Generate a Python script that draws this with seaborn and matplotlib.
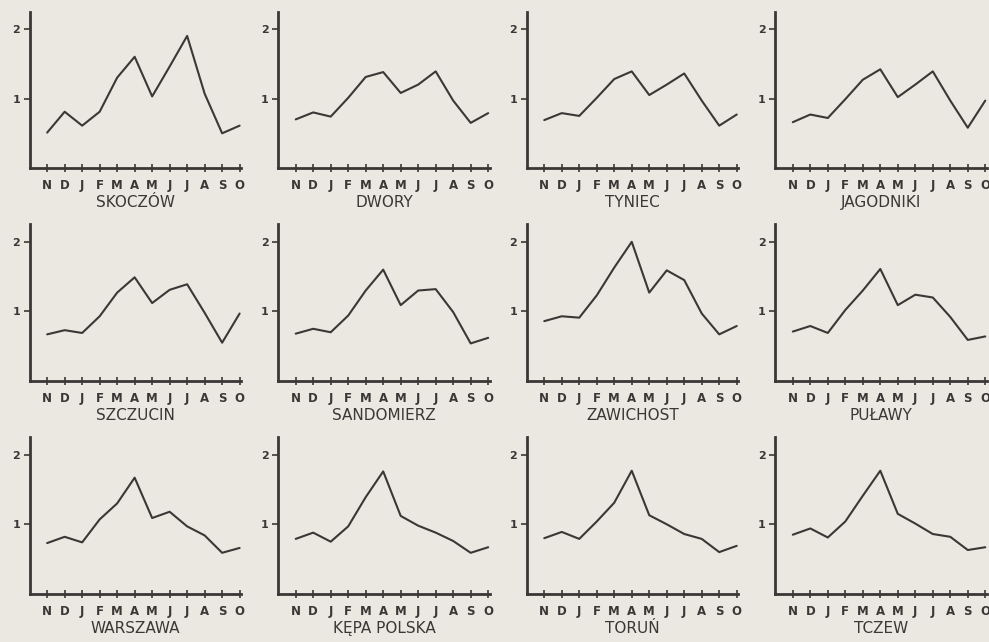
import matplotlib.pyplot as plt
import seaborn as sns
import pandas as pd

# hydrological year, November to October
months = ["N", "D", "J", "F", "M", "A", "M", "J", "J", "A", "S", "O"]

stations = ["SKOCZÓW", "DWORY", "TYNIEC", "JAGODNIKI",
            "SZCZUCIN", "SANDOMIERZ", "ZAWICHOST", "PUŁAWY",
            "WARSZAWA", "KĘPA POLSKA", "TORUŃ", "TCZEW"]

skoczow    = [0.51, 0.81, 0.61, 0.81, 1.30, 1.60, 1.03, 1.46, 1.90, 1.07, 0.50, 0.61]
dwory      = [0.70, 0.80, 0.74, 1.01, 1.31, 1.38, 1.08, 1.20, 1.39, 0.97, 0.65, 0.79]
tyniec     = [0.69, 0.79, 0.75, 1.01, 1.28, 1.39, 1.05, 1.20, 1.36, 0.97, 0.61, 0.77]
jagodniki  = [0.66, 0.77, 0.72, 0.99, 1.27, 1.42, 1.02, 1.20, 1.39, 0.97, 0.58, 0.97]
szczucin   = [0.67, 0.73, 0.69, 0.93, 1.27, 1.49, 1.12, 1.31, 1.39, 0.98, 0.55, 0.97]
sandomierz = [0.68, 0.75, 0.70, 0.94, 1.30, 1.60, 1.09, 1.30, 1.32, 0.99, 0.54, 0.62]
zawichost  = [0.86, 0.93, 0.91, 1.23, 1.63, 2.00, 1.27, 1.59, 1.45, 0.97, 0.67, 0.79]
pulawy     = [0.71, 0.79, 0.69, 1.02, 1.30, 1.61, 1.09, 1.24, 1.20, 0.92, 0.59, 0.64]
warszawa   = [0.73, 0.82, 0.74, 1.07, 1.30, 1.67, 1.09, 1.18, 0.97, 0.84, 0.59, 0.66]
kepa       = [0.79, 0.88, 0.75, 0.97, 1.39, 1.76, 1.12, 0.98, 0.88, 0.76, 0.59, 0.67]
torun      = [0.80, 0.89, 0.79, 1.04, 1.31, 1.77, 1.13, 1.00, 0.86, 0.79, 0.60, 0.69]
tczew      = [0.85, 0.94, 0.81, 1.04, 1.41, 1.77, 1.15, 1.01, 0.86, 0.82, 0.63, 0.67]

series = [skoczow, dwory, tyniec, jagodniki, szczucin, sandomierz,
          zawichost, pulawy, warszawa, kepa, torun, tczew]

paper = "#ebe8e1"
ink = "#3a3836"

sns.set_style("white")
plt.rcParams["font.family"] = ["DejaVu Sans"]

fig, axes = plt.subplots(3, 4, figsize=(9.89, 6.42), dpi=100, facecolor=paper)
fig.subplots_adjust(left=0.030, right=0.998, bottom=0.075, top=0.982,
                    wspace=0.174, hspace=0.36)

for ax, name, vals in zip(axes.flat, stations, series):
    df = pd.DataFrame({"pos": range(len(months)), "val": vals})
    ax.set_facecolor(paper)
    sns.lineplot(data=df, x="pos", y="val", ax=ax, color=ink, linewidth=1.5)

    ax.set_xlim(-1.0, 11.1)
    ax.set_ylim(0, 2.25)
    ax.set_xticks(range(len(months)))
    ax.set_xticklabels(months, fontsize=8.5, fontweight="bold", color=ink)
    ax.set_yticks([1, 2])
    ax.set_yticklabels(["1", "2"], fontsize=8, fontweight="bold", color=ink)
    ax.tick_params(axis="x", bottom=True, direction="inout", length=6, width=1.2,
                   color=ink, pad=5)
    ax.tick_params(axis="y", left=True, direction="out", length=4, width=1.2,
                   color=ink, pad=3)
    ax.set_xlabel(name, fontsize=11, color=ink, labelpad=2)
    ax.set_ylabel("")

    for side in ["top", "right"]:
        ax.spines[side].set_visible(False)
    for side in ["left", "bottom"]:
        ax.spines[side].set_color(ink)
        ax.spines[side].set_linewidth(2)

plt.savefig("out.png", dpi=100, facecolor=paper)
plt.close()
